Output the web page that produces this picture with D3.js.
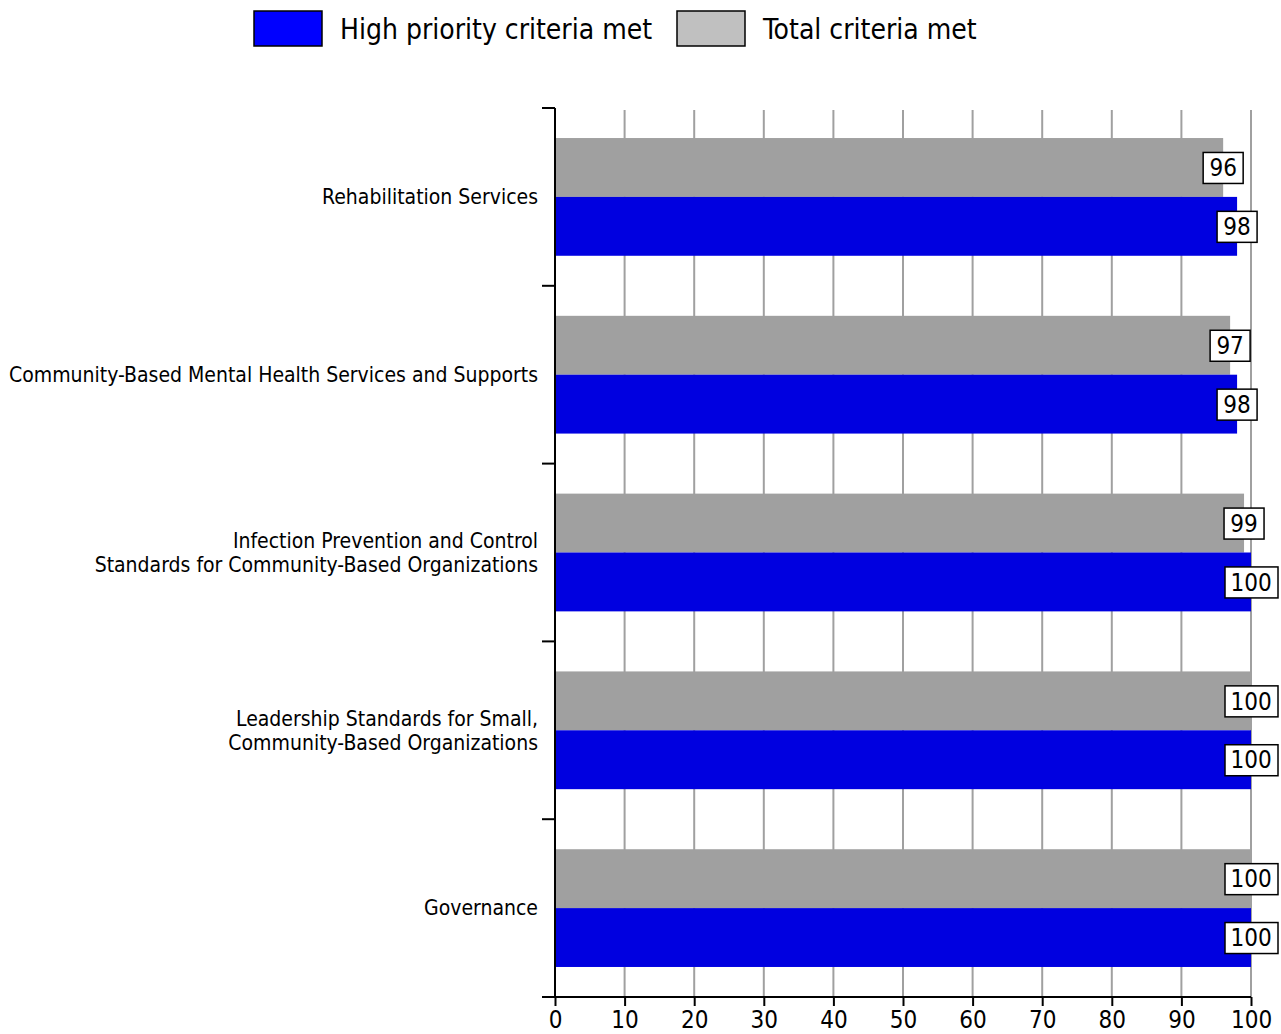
<!DOCTYPE html>
<html>
<head>
<meta charset="utf-8">
<script src="https://cdn.jsdelivr.net/npm/d3@7"></script>
<style>
  body { margin: 0; background: #fff; }
  text { font-family: "DejaVu Sans Condensed", "Liberation Sans Narrow", sans-serif; fill: #000; }
</style>
</head>
<body>
<div id="chart"></div>
<script>
const categories = [
    ["Rehabilitation Services"],
    ["Community-Based Mental Health Services and Supports"],
    ["Infection Prevention and Control", "Standards for Community-Based Organizations"],
    ["Leadership Standards for Small,", "Community-Based Organizations"],
    ["Governance"]
];
const totalMet = [96, 97, 99, 100, 100];
const highPriorityMet = [98, 98, 100, 100, 100];
const xTicks = [0, 10, 20, 30, 40, 50, 60, 70, 80, 90, 100];
const seriesNames = ["High priority criteria met", "Total criteria met"];

const width = 1281;
const height = 1034;
const margin = { top: 108, right: 30, bottom: 37, left: 555 };

const svg = d3.select("#chart").append("svg")
    .attr("width", width)
    .attr("height", height);

const x = d3.scaleLinear().domain([0, 100]).range([margin.left, margin.left + 696]);
const y = d3.scaleBand().domain(d3.range(categories.length))
    .range([margin.top, height - margin.bottom]);
// two bars per band, gray on top then blue
const sub = d3.scaleBand().domain(["total", "high"])
    .range([0, y.bandwidth()]).paddingOuter(0.51).paddingInner(0);

// Grid lines
svg.append("g")
    .selectAll("line")
    .data(xTicks.slice(1))
    .enter()
    .append("line")
    .attr("x1", d => x(d)).attr("x2", d => x(d))
    .attr("y1", margin.top + 2).attr("y2", height - margin.bottom)
    .attr("stroke", "#a0a0a0")
    .attr("stroke-width", 2);

// Bars
const groups = svg.append("g")
    .selectAll("g")
    .data(categories.map((c, i) => ({ i, total: totalMet[i], high: highPriorityMet[i] })))
    .enter()
    .append("g")
    .attr("transform", d => `translate(0,${y(d.i)})`);

groups.append("rect")
    .attr("x", x(0))
    .attr("y", sub("total"))
    .attr("width", d => x(d.total) - x(0))
    .attr("height", sub.bandwidth())
    .attr("fill", "#a0a0a0");

groups.append("rect")
    .attr("x", x(0))
    .attr("y", sub("high"))
    .attr("width", d => x(d.high) - x(0))
    .attr("height", sub.bandwidth())
    .attr("fill", "#0000e0");

// Value label boxes
function addLabel(sel, key) {
    const g = sel.append("g")
        .attr("transform", d => `translate(${x(d[key])},${sub(key) + sub.bandwidth() / 2})`);
    g.append("rect")
        .attr("x", d => d[key] >= 100 ? -26 : -20)
        .attr("width", d => d[key] >= 100 ? 53 : 40)
        .attr("y", -15)
        .attr("height", 31)
        .attr("fill", "#fff")
        .attr("stroke", "#000")
        .attr("stroke-width", 1.5);
    g.append("text")
        .attr("text-anchor", "middle")
        .attr("dy", "0.36em")
        .style("font-size", "24px")
        .text(d => d[key]);
}
addLabel(groups, "total");
addLabel(groups, "high");

// Y axis
svg.append("line")
    .attr("x1", margin.left).attr("x2", margin.left)
    .attr("y1", margin.top).attr("y2", height - margin.bottom)
    .attr("stroke", "#000").attr("stroke-width", 2);

svg.append("g")
    .selectAll("line")
    .data(d3.range(categories.length))
    .enter()
    .append("line")
    .attr("x1", margin.left - 13).attr("x2", margin.left)
    .attr("y1", d => y(d)).attr("y2", d => y(d))
    .attr("stroke", "#000").attr("stroke-width", 2);

// Category labels
const labels = svg.append("g")
    .selectAll("text")
    .data(categories)
    .enter()
    .append("text")
    .attr("text-anchor", "end")
    .attr("x", margin.left - 17)
    .attr("y", (d, i) => y(i) + y.bandwidth() / 2 - (d.length - 1) * 12)
    .style("font-size", "21px");
labels.selectAll("tspan")
    .data(d => d)
    .enter()
    .append("tspan")
    .attr("x", margin.left - 17)
    .attr("dy", (d, i) => i === 0 ? "0.35em" : "24px")
    .text(d => d);

// X axis
const xAxis = svg.append("g")
    .attr("transform", `translate(0,${height - margin.bottom})`)
    .call(d3.axisBottom(x).tickValues(xTicks).tickSize(9).tickPadding(5).tickSizeOuter(0));
xAxis.select(".domain").remove();
xAxis.selectAll(".tick line").attr("stroke", "#000").attr("stroke-width", 2);
xAxis.selectAll(".tick text")
    .style("font-size", "24px")
    .style("font-family", "'DejaVu Sans Condensed', 'Liberation Sans Narrow', sans-serif")
    .attr("fill", "#000");
svg.append("line")
    .attr("x1", margin.left - 13).attr("x2", x(100))
    .attr("y1", height - margin.bottom).attr("y2", height - margin.bottom)
    .attr("stroke", "#000").attr("stroke-width", 2);

// Legend
const legendColors = ["#0000ff", "#c0c0c0"];
const legendX = [254, 677];
const legend = svg.append("g")
    .selectAll("g")
    .data(seriesNames)
    .enter()
    .append("g")
    .attr("transform", (d, i) => `translate(${legendX[i]},11)`);
legend.append("rect")
    .attr("width", 68).attr("height", 35)
    .attr("fill", (d, i) => legendColors[i])
    .attr("stroke", "#000").attr("stroke-width", 1.5);
legend.append("text")
    .attr("x", 86).attr("y", 18).attr("dy", "0.36em")
    .style("font-size", "28px")
    .text(d => d);
</script>
</body>
</html>
